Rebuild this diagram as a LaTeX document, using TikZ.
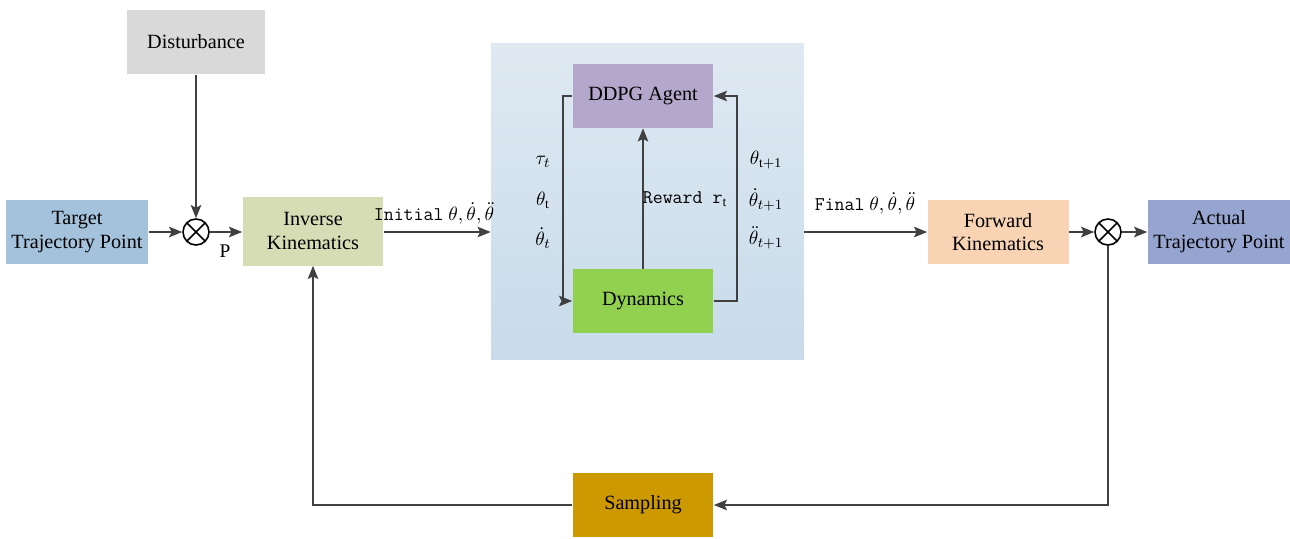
\documentclass[tikz,border=0pt]{standalone}
\usepackage{fontspec}
\setmainfont{Liberation Serif}
\usepackage{amsmath}
\usetikzlibrary{arrows.meta, positioning, calc}

\definecolor{linegray}{HTML}{404040}
\definecolor{distgray}{HTML}{D9D9D9}
\definecolor{targetblue}{HTML}{A4C2DC}
\definecolor{ikgreen}{HTML}{D6DCB4}
\definecolor{paneltop}{HTML}{DFE9F2}
\definecolor{panelbot}{HTML}{C7DBEA}
\definecolor{agentpurple}{HTML}{B4A7CC}
\definecolor{dyngreen}{HTML}{92D050}
\definecolor{fkorange}{HTML}{F8D4B4}
\definecolor{actualblue}{HTML}{96A5D0}
\definecolor{sampgold}{HTML}{CC9900}

\begin{document}
\begin{tikzpicture}[
  x=0.02cm, y=-0.02cm,
  >={Stealth[length=7.5pt,width=6pt,inset=1.5pt]},
  blk/.style={draw=none, minimum width=2.82cm, minimum height=1.28cm, align=center, font=\fontsize{11.5}{13.5}\selectfont},
  sumnode/.style={circle, draw=black, line width=0.9pt, minimum size=0.52cm, inner sep=0pt,
    path picture={\draw[line width=0.9pt] (path picture bounding box.south west) -- (path picture bounding box.north east)
      (path picture bounding box.north west) -- (path picture bounding box.south east);}},
  conn/.style={draw=linegray, line width=0.9pt, ->},
  lbl/.style={inner sep=1pt, font=\fontsize{11}{13}\selectfont}
  ]
  \useasboundingbox (0,0) rectangle (1290,538);

  % DDPG panel
  \node[minimum width=6.26cm, minimum height=6.34cm, top color=paneltop, bottom color=panelbot] (panel) at (647.5,201.5) {};
  \node[blk, fill=agentpurple] (agent) at (643,96) {DDPG Agent};
  \node[blk, fill=dyngreen] (dyn) at (643,301) {Dynamics};
  \coordinate (lbend) at (563,96);
  \coordinate (rbend) at (737,301);
  \draw[conn] (agent.west) -- (lbend) |- (dyn.west);
  \draw[conn] (dyn.east) -- (rbend) |- (agent.east);
  \draw[conn] (dyn) -- (agent);
  \node[lbl] (tau) at (543,162) {$\tau_{t}$};
  \node[lbl] (th) at (543,200) {$\theta_{\mathrm{t}}$};
  \node[lbl] (thd) at (543,238) {$\dot{\theta}_{t}$};
  \node[lbl] (thn) at (766,160) {$\theta_{\mathrm{t+1}}$};
  \node[lbl] (thdn) at (766,200) {$\dot{\theta}_{t+1}$};
  \node[lbl] (thddn) at (766,238) {$\ddot{\theta}_{t+1}$};
  \node[lbl] (reward) at (685,199) {\texttt{Reward r}$_{\mathrm{t}}$};

  % forward path
  \node[blk, fill=distgray, minimum width=2.76cm, minimum height=1.3cm] (dist) at (196,42) {Disturbance};
  \node[blk, fill=targetblue] (target) at (77,232) {Target\\Trajectory Point};
  \node[sumnode] (sum1) at (196,232) {};
  \node[blk, fill=ikgreen, minimum height=1.38cm] (ik) at (313,231) {Inverse\\Kinematics};
  \node[blk, fill=fkorange] (fk) at (998,232) {Forward\\Kinematics};
  \node[sumnode] (sum2) at (1108,232) {};
  \node[blk, fill=actualblue, minimum width=2.78cm] (actual) at (1219,232) {Actual\\Trajectory Point};
  \draw[conn] (dist) -- (sum1);
  \draw[conn] (target) -- (sum1);
  \draw[conn] (sum1) -- (sum1 -| ik.west);
  \node[lbl] (p) at (225,251) {P};
  \draw[conn] (ik.east |- sum1) -- (panel.west |- sum1);
  \node[lbl] (init) at (434,213) {\texttt{Initial} $\theta,\dot{\theta},\ddot{\theta}$};
  \draw[conn] (panel.east |- fk.west) -- (fk.west);
  \node[lbl] (final) at (865,203) {\texttt{Final} $\theta,\dot{\theta},\ddot{\theta}$};
  \draw[conn] (fk) -- (sum2);
  \draw[conn] (sum2) -- (actual);

  % feedback
  \node[blk, fill=sampgold] (samp) at (643,505) {Sampling};
  \draw[conn] (sum2) |- (samp);
  \draw[conn] (samp) -| (ik);
\end{tikzpicture}
\end{document}
